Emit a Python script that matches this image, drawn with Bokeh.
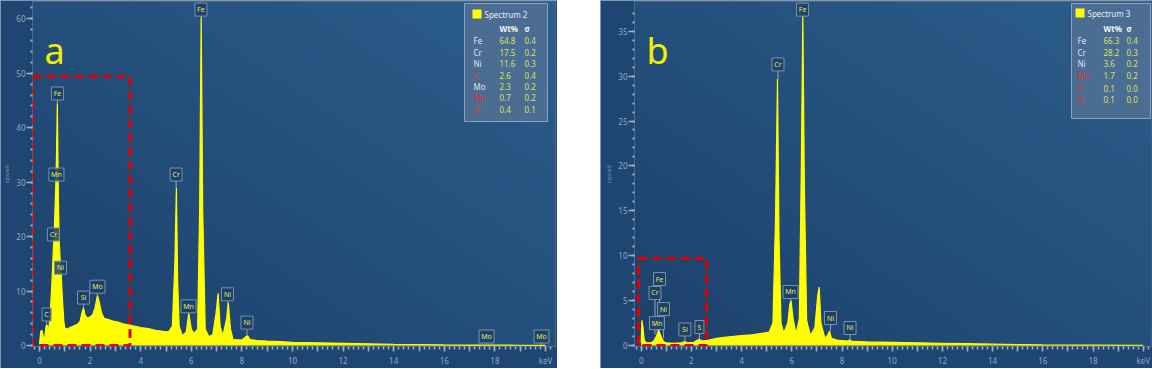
import numpy as np
from bokeh.plotting import figure
from bokeh.layouts import row
from bokeh.models import FixedTicker, Spacer
from bokeh.core.properties import value
from bokeh.embed import file_html
from bokeh.resources import INLINE

FONT = "Noto Sans"

# ---------------- data ----------------
energy_a = [
    0.00, 0.05, 0.10, 0.15, 0.20, 0.26, 0.30, 0.35, 0.40, 0.45,
    0.50, 0.55, 0.58, 0.62, 0.66, 0.69, 0.705, 0.72, 0.75, 0.78,
    0.82, 0.85, 0.88, 0.92, 0.96, 1.00, 1.10, 1.20, 1.30, 1.40,
    1.50, 1.60, 1.70, 1.74, 1.80, 1.90, 2.00, 2.10, 2.20, 2.29,
    2.35, 2.45, 2.55, 2.70, 2.90, 3.10, 3.30, 3.50, 3.70, 4.00,
    4.30, 4.60, 4.90, 5.10, 5.25, 5.35, 5.41, 5.46, 5.52, 5.65,
    5.80, 5.90, 6.00, 6.10, 6.25, 6.33, 6.39, 6.45, 6.55, 6.70,
    6.85, 6.98, 7.06, 7.14, 7.25, 7.40, 7.46, 7.55, 7.65, 8.00,
    8.16, 8.22, 8.32, 8.60, 9.00, 9.50, 10.0, 11.0, 12.0, 13.0,
    14.0, 15.0, 16.0, 17.0, 18.0, 19.0, 20.0,
]
counts_a = [
    0.3, 2.6, 2.8, 1.6, 1.2, 3.6, 3.8, 2.5, 4.5, 8.0,
    12.5, 18.0, 20.5, 26.0, 32.0, 40.0, 44.5, 38.0, 26.0, 19.0,
    15.5, 14.0, 11.0, 7.5, 4.5, 3.2, 3.0, 3.3, 3.5, 3.7,
    3.9, 4.4, 6.4, 6.9, 5.6, 5.0, 5.3, 5.6, 7.0, 9.2,
    8.2, 6.0, 5.0, 4.8, 4.5, 4.3, 4.0, 3.8, 3.6, 3.3,
    3.1, 2.8, 2.6, 2.5, 3.5, 15.0, 29.0, 12.0, 3.5, 1.8,
    2.5, 5.9, 3.0, 2.2, 3.0, 25.0, 60.5, 25.0, 3.0, 1.6,
    2.0, 6.0, 9.6, 3.5, 1.8, 5.0, 7.9, 3.0, 1.1, 1.0,
    1.6, 1.8, 1.1, 0.9, 0.8, 0.7, 0.6, 0.5, 0.4, 0.3,
    0.2, 0.15, 0.1, 0.08, 0.06, 0.05, 0.04,
]

energy_b = [
    0.00, 0.03, 0.07, 0.12, 0.20, 0.40, 0.50, 0.58, 0.65, 0.70,
    0.75, 0.82, 0.90, 1.00, 1.30, 1.60, 1.74, 1.85, 2.10, 2.30,
    2.45, 2.70, 3.00, 3.30, 3.60, 4.00, 4.40, 4.80, 5.10, 5.25,
    5.35, 5.43, 5.49, 5.57, 5.68, 5.84, 5.92, 5.97, 6.05, 6.17,
    6.30, 6.38, 6.44, 6.50, 6.59, 6.74, 6.92, 7.03, 7.09, 7.16,
    7.32, 7.44, 7.50, 7.58, 7.80, 8.20, 8.30, 8.42, 9.00, 10.0,
    11.0, 12.0, 13.0, 14.0, 15.0, 16.0, 18.0, 20.0,
]
counts_b = [
    0.3, 2.8, 2.0, 0.6, 0.3, 0.3, 0.5, 0.9, 1.3, 1.7,
    1.3, 0.8, 0.4, 0.3, 0.25, 0.3, 0.45, 0.3, 0.35, 0.7,
    0.5, 0.6, 0.8, 0.9, 1.0, 1.1, 1.2, 1.35, 1.5, 2.5,
    14.0, 29.7, 12.0, 2.5, 1.4, 2.5, 4.6, 5.0, 3.0, 1.3,
    3.0, 20.0, 36.7, 18.0, 2.8, 1.1, 2.0, 5.5, 6.5, 2.5,
    0.8, 1.2, 1.6, 0.8, 0.6, 0.5, 0.6, 0.45, 0.4, 0.35,
    0.3, 0.25, 0.2, 0.15, 0.1, 0.06, 0.04, 0.03,
]

# peak labels: element, energy (keV), label height (cps/eV), peak height under it
peak_names_a = ["Fe", "Cr", "Mn", "Ni", "Ni", "Fe", "Mn", "Cr", "Ni", "C", "Si", "Mo", "Mo", "Mo"]
peak_keV_a = [6.38, 5.40, 5.89, 7.43, 8.20, 0.71, 0.67, 0.55, 0.83, 0.28, 1.74, 2.29, 17.67, 19.84]
peak_lab_a = [61.7, 31.4, 7.2, 9.4, 4.2, 46.3, 31.4, 20.4, 14.3, 5.7, 8.8, 10.8, 1.65, 1.65]
peak_top_a = [60.5, 29.0, 5.9, 7.9, 1.8, 44.5, 30.0, 19.0, 13.0, 3.8, 6.9, 9.2, 0.1, 0.05]

peak_names_b = ["Fe", "Cr", "Mn", "Ni", "Ni", "Fe", "Cr", "Ni", "Mn", "Si", "S"]
peak_keV_b = [6.43, 5.45, 5.95, 7.54, 8.32, 0.73, 0.55, 0.89, 0.63, 1.74, 2.32]
peak_lab_b = [37.4, 31.3, 5.96, 3.06, 1.95, 7.4, 5.85, 4.06, 2.5, 1.78, 2.06]
peak_top_b = [36.7, 29.7, 5.0, 1.6, 0.6, 1.7, 1.2, 0.8, 1.4, 0.45, 0.7]

# quantification tables
elements_a = ["Fe", "Cr", "Ni", "C", "Mo", "Mn", "Si"]
wt_a = [64.8, 17.5, 11.6, 2.6, 2.3, 0.7, 0.4]
sigma_a = [0.4, 0.2, 0.3, 0.4, 0.2, 0.2, 0.1]
red_a = ["C", "Mn", "Si"]

elements_b = ["Fe", "Cr", "Ni", "Mn", "S", "Si"]
wt_b = [66.3, 28.2, 3.6, 1.7, 0.1, 0.1]
sigma_b = [0.4, 0.3, 0.2, 0.2, 0.0, 0.0]
red_b = ["Mn", "S", "Si"]

# ---------------- styling ----------------
BORDER = "#1f4573"
DARK = (29, 65, 108)
LIGHT = (44, 94, 140)
TICK = "#9fb3c8"
TXT = "#93a9c1"
YEL = "#ffff00"
FIG_H = 368
FRAME_TOP = 1
FRAME_BOTTOM = 346


def gradient(p, xr, yr):
    H, W = 128, 128
    u = np.linspace(0, 1, W)[None, :]
    v = np.linspace(0, 1, H)[:, None]
    t = 0.5 * u + 0.5 * v
    img = np.zeros((H, W), dtype=np.uint32)
    view = img.view(dtype=np.uint8).reshape((H, W, 4))
    for k in range(3):
        view[:, :, k] = (DARK[k] + (LIGHT[k] - DARK[k]) * t).astype(np.uint8)
    view[:, :, 3] = 255
    p.image_rgba(image=[img], x=xr[0], y=yr[0], dw=xr[1] - xr[0], dh=yr[1] - yr[0])


def build_panel(energy, counts, fig_w, b_left, b_right, xr, yr, y_step, y_minor_step, y_max):
    p = figure(width=fig_w, height=FIG_H, x_range=xr, y_range=yr,
               output_backend="svg", toolbar_location=None,
               min_border_left=b_left, min_border_right=b_right,
               min_border_top=FRAME_TOP, min_border_bottom=FIG_H - FRAME_BOTTOM)
    p.xgrid.visible = False
    p.ygrid.visible = False
    p.outline_line_color = None
    p.border_fill_color = BORDER
    p.background_fill_color = BORDER
    p.styles = {"outline": "1px solid #a9b3bd", "outline-offset": "-1px"}
    gradient(p, xr, yr)

    xa = p.xaxis[0]
    xa.ticker = FixedTicker(ticks=list(range(0, 21)),
                            minor_ticks=[round(0.2 * i, 1) for i in range(-1, 102)])
    xa.major_label_overrides = {i: ("keV" if i == 20 else ("" if i % 2 else str(i))) for i in range(21)}
    xa.major_tick_out = 5
    xa.minor_tick_out = 3
    xa.major_label_standoff = 3

    ya = p.yaxis[0]
    ya.ticker = FixedTicker(ticks=list(range(0, y_max + 1, y_step)),
                            minor_ticks=list(range(0, y_max + 3, y_minor_step)))
    ya.major_tick_out = 6
    ya.minor_tick_out = 2
    ya.major_label_standoff = 1
    ya.axis_label = "cps/eV"
    ya.axis_label_text_font = FONT
    ya.axis_label_text_font_size = "6px"
    ya.axis_label_text_font_style = "normal"
    ya.axis_label_text_color = "#7f96b0"
    ya.axis_label_standoff = 2

    for ax in (xa, ya):
        ax.axis_line_color = None
        ax.major_tick_in = 0
        ax.minor_tick_in = 0
        ax.major_tick_line_color = TICK
        ax.minor_tick_line_color = TICK
        ax.major_tick_line_width = 1.5
        ax.minor_tick_line_width = 1.5
        ax.major_label_text_color = TXT
        ax.major_label_text_font = FONT
        ax.major_label_text_font_size = "8px"
    ya.minor_tick_line_width = 2

    p.varea(x=energy, y1=[0] * len(energy), y2=counts, fill_color=YEL)
    p.line(x=energy, y=counts, line_color=YEL, line_width=1.2)
    return p


def peak_labels(p, names, kev, lab, top, yr):
    ppu = (FRAME_BOTTOM - FRAME_TOP) / (yr[1] - yr[0])
    bottoms = [y - 6.5 / ppu for y in lab]
    p.segment(x0=kev, y0=bottoms, x1=kev, y1=top, line_color="#8ea5be", line_width=1)
    widths = [15 if n.startswith("M") else (9 if len(n) == 1 else 12) for n in names]
    p.rect(x=kev, y=lab, width=widths, height=13, width_units="screen", height_units="screen",
           fill_color="#1d4066", fill_alpha=0.85, line_color="#7892b0", line_width=1)
    p.text(x=kev, y=lab, text=names, text_align="center", text_baseline="middle",
           text_font=value(FONT), text_font_size="7px", text_color="#e8e860")


def legend_table(p, ref, lay, title, elems, wts, sigs, reds):
    x0, sx, y0, sy = ref
    fx = lambda X: (X - x0) / sx
    fy = lambda Y: (y0 - Y) / sy
    l, r, t, b = lay["box"]
    p.quad(left=[fx(l)], right=[fx(r)], top=[fy(t)], bottom=[fy(b)],
           fill_color="#4f6f94", fill_alpha=0.92, line_color="#8ea3bb", line_width=1)
    sl, sr, st, sb = lay["sq"]
    p.quad(left=[fx(sl)], right=[fx(sr)], top=[fy(st)], bottom=[fy(sb)],
           fill_color=YEL, line_color=None)
    tx, ty = lay["title"]
    p.text(x=[fx(tx)], y=[fy(ty)], text=[title], text_baseline="middle",
           text_font=value(FONT), text_font_size="8px", text_color="#e6edf4")
    p.text(x=[fx(lay["wt_x"]), fx(lay["sig_x"])], y=[fy(lay["hdr_y"])] * 2, text=["Wt%", "σ"],
           text_baseline="middle", text_font=value(FONT), text_font_size="8px",
           text_font_style="bold", text_color="#f4f7fa")
    ys = [fy(Y) for Y in lay["rows"]]
    name_cols = ["#e2302c" if e in reds else "#dde5ee" for e in elems]
    p.text(x=[fx(lay["name_x"])] * len(elems), y=ys, text=elems, text_baseline="middle",
           text_font=value(FONT), text_font_size="8px", text_color=name_cols)
    p.text(x=[fx(lay["wt_x"])] * len(elems), y=ys, text=[f"{w:.1f}" for w in wts],
           text_baseline="middle", text_font=value(FONT), text_font_size="8px", text_color="#d8e15a")
    p.text(x=[fx(lay["sig_x"])] * len(elems), y=ys, text=[f"{s:.1f}" for s in sigs],
           text_baseline="middle", text_font=value(FONT), text_font_size="8px", text_color="#d8e15a")
    return fx, fy


# ---------------- panel a ----------------
REF_A = (39.0, 25.3, 345.0, 5.444)
xr_a = ((32 - 39) / 25.3, (555 - 39) / 25.3)
yr_a = ((345 - FRAME_BOTTOM) / 5.444, (345 - FRAME_TOP) / 5.444)
pa = build_panel(energy_a, counts_a, 557, 32, 2, xr_a, yr_a, 10, 2, 60)
peak_labels(pa, peak_names_a, peak_keV_a, peak_lab_a, peak_top_a, yr_a)
fxa, fya = legend_table(pa, REF_A, dict(box=(464, 547, 3, 121), sq=(472, 481, 9, 18), title=(484, 13.5),
                                       hdr_y=28, name_x=473, wt_x=499, sig_x=524,
                                       rows=[40, 51.7, 63.3, 75, 86, 97.3, 109]),
                        "Spectrum 2", elements_a, wt_a, sigma_a, red_a)
pa.quad(left=[fxa(32)], right=[fxa(129.5)], top=[fya(76)], bottom=[0], fill_alpha=0,
        line_color="#e00000", line_width=3, line_dash="9 5")
pa.text(x=[fxa(44)], y=[fya(50)], text=["a"], text_baseline="alphabetic",
        text_font=value(FONT), text_font_size="36px", text_color="#f0f000")

# ---------------- panel b ----------------
REF_B = (640.7, 25.1, 345.0, 8.98)
xr_b = ((634 - 640.7) / 25.1, (1151 - 640.7) / 25.1)
yr_b = ((345 - FRAME_BOTTOM) / 8.98, (345 - FRAME_TOP) / 8.98)
pb = build_panel(energy_b, counts_b, 552, 34, 1, xr_b, yr_b, 5, 1, 35)
peak_labels(pb, peak_names_b, peak_keV_b, peak_lab_b, peak_top_b, yr_b)
fxb, fyb = legend_table(pb, REF_B, dict(box=(1071, 1150, 3, 118), sq=(1075, 1084, 8, 17), title=(1087, 12.5),
                                       hdr_y=28, name_x=1077, wt_x=1103, sig_x=1126,
                                       rows=[40, 51.7, 63.3, 75, 88.3, 99.3]),
                        "Spectrum 3", elements_b, wt_b, sigma_b, red_b)
pb.quad(left=[fxb(638)], right=[fxb(706)], top=[fyb(258)], bottom=[0], fill_alpha=0,
        line_color="#e00000", line_width=3, line_dash="9 5")
pb.text(x=[fxb(646)], y=[fyb(50)], text=["b"], text_baseline="alphabetic",
        text_font=value(FONT), text_font_size="36px", text_color="#f0f000")

layout = row(pa, Spacer(width=43, height=FIG_H), pb)
open("out.html", "w").write(file_html(layout, INLINE))
